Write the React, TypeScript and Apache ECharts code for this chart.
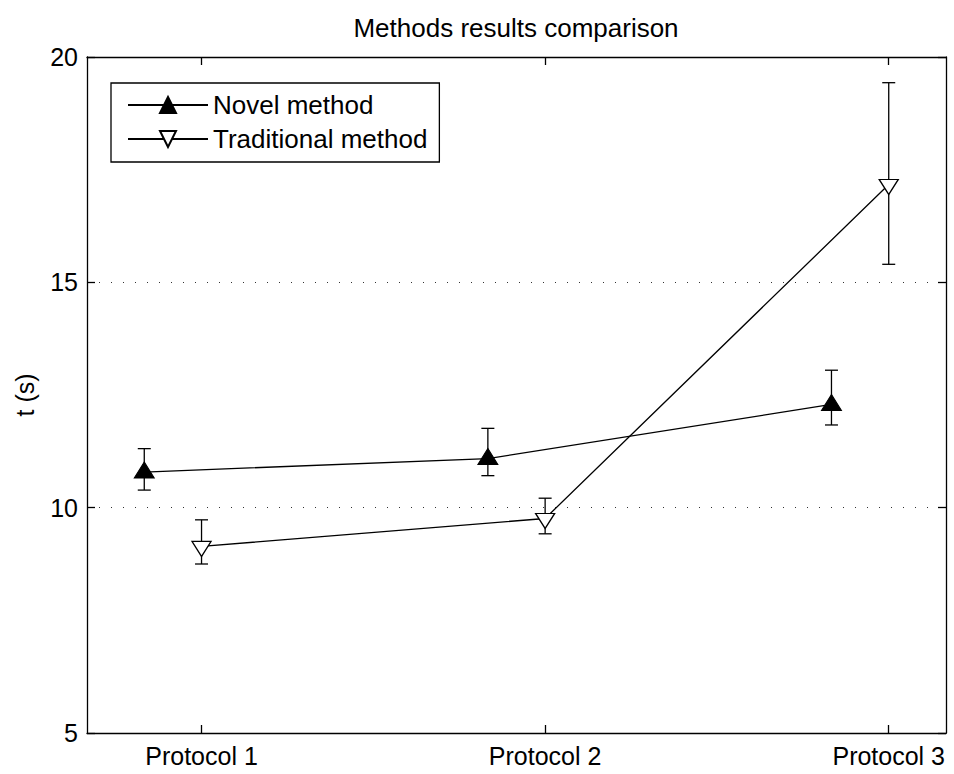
import React, { useEffect, useRef } from "react";
import * as echarts from "echarts";

const categories = ["Protocol 1", "Protocol 2", "Protocol 3"];
const categoryX = [1, 2, 3];
const novelX = [5 / 6, 11 / 6, 17 / 6];
const tradX = [1, 2, 3];
const novelMean = [10.79, 11.09, 12.29];
const novelLow = [10.39, 10.71, 11.835];
const novelHigh = [11.31, 11.76, 13.05];
const tradMean = [9.14, 9.76, 17.17];
const tradLow = [8.75, 9.42, 15.4];
const tradHigh = [9.73, 10.21, 19.43];
const yTicks = [5, 10, 15, 20];

const FONT = "'Liberation Sans', Arial, Helvetica, sans-serif";

export default function App() {
  const ref = useRef<HTMLDivElement>(null);
  useEffect(() => {
    if (!ref.current) return;
    const chart = echarts.init(ref.current, null, { renderer: "svg" });
    const axisLineStyle = { color: "#000", width: 1.3 };
    const errRender = (params: any, api: any) => {
      const x = api.value(0);
      const lo = api.coord([x, api.value(1)]);
      const hi = api.coord([x, api.value(2)]);
      const hw = 6.5;
      const style = { stroke: "#000", lineWidth: 1.3, fill: null };
      return {
        type: "group",
        children: [
          { type: "line", shape: { x1: lo[0], y1: lo[1], x2: hi[0], y2: hi[1] }, style },
          { type: "line", shape: { x1: lo[0] - hw, y1: lo[1], x2: lo[0] + hw, y2: lo[1] }, style },
          { type: "line", shape: { x1: hi[0] - hw, y1: hi[1], x2: hi[0] + hw, y2: hi[1] }, style },
        ],
      };
    };
    const option: any = {
      animation: false,
      backgroundColor: "#fff",
      textStyle: { fontFamily: FONT },
      graphic: [
        {
          type: "text",
          x: 516,
          y: 28,
          style: {
            text: "Methods results comparison",
            font: `26px ${FONT}`,
            fill: "#000",
            align: "center",
            verticalAlign: "middle",
          },
        },
      ],
      grid: { left: 87, right: 8, top: 57, bottom: 41, outerBoundsMode: "none" },
      legend: {
        data: ["Novel method", "Traditional method"],
        orient: "vertical",
        left: 111,
        top: 83,
        backgroundColor: "#fff",
        borderColor: "#000",
        borderWidth: 1.3,
        borderRadius: 0,
        padding: [9, 12, 10, 16],
        itemWidth: 80,
        itemHeight: 20,
        itemGap: 8,
        selectedMode: false,
        textStyle: { fontSize: 26, lineHeight: 26, color: "#000", fontFamily: FONT },
      },
      xAxis: [
        {
          type: "value",
          min: 2 / 3,
          max: 19 / 6,
          position: "bottom",
          axisLine: { show: true, lineStyle: axisLineStyle },
          axisTick: { show: true, inside: true, length: 8, lineStyle: axisLineStyle, customValues: categoryX },
          axisLabel: {
            show: true,
            customValues: categoryX,
            margin: 10,
            fontSize: 25,
            color: "#000",
            fontFamily: FONT,
            formatter: (v: number) => categories[categoryX.indexOf(Math.round(v))] ?? "",
          },
          splitLine: { show: false },
        },
        {
          type: "value",
          min: 2 / 3,
          max: 19 / 6,
          position: "top",
          axisLine: { show: true, lineStyle: axisLineStyle },
          axisTick: { show: true, inside: true, length: 8, lineStyle: axisLineStyle, customValues: categoryX },
          axisLabel: { show: false },
          splitLine: { show: false },
        },
      ],
      yAxis: [
        {
          type: "value",
          min: yTicks[0],
          max: yTicks[yTicks.length - 1],
          interval: 5,
          position: "left",
          name: "t (s)",
          nameLocation: "middle",
          nameGap: 50,
          nameTextStyle: { fontSize: 25, color: "#000", fontFamily: FONT },
          axisLine: { show: true, lineStyle: axisLineStyle },
          axisTick: { show: true, inside: true, length: 8, lineStyle: axisLineStyle },
          axisLabel: { margin: 9, fontSize: 25, color: "#000", fontFamily: FONT },
          splitLine: { show: true, lineStyle: { color: "#333", width: 1, type: [1, 11] } },
        },
        {
          type: "value",
          min: yTicks[0],
          max: yTicks[yTicks.length - 1],
          interval: 5,
          position: "right",
          axisLine: { show: true, lineStyle: axisLineStyle },
          axisTick: { show: true, inside: true, length: 8, lineStyle: axisLineStyle },
          axisLabel: { show: false },
          splitLine: { show: false },
        },
      ],
      series: [
        {
          type: "custom",
          xAxisIndex: 0,
          yAxisIndex: 0,
          z: 1,
          renderItem: errRender,
          data: novelX.map((x, i) => [x, novelLow[i], novelHigh[i]]),
          encode: { x: 0, y: [1, 2] },
          silent: true,
        },
        {
          type: "custom",
          xAxisIndex: 0,
          yAxisIndex: 0,
          z: 1,
          renderItem: errRender,
          data: tradX.map((x, i) => [x, tradLow[i], tradHigh[i]]),
          encode: { x: 0, y: [1, 2] },
          silent: true,
        },
        {
          name: "Novel method",
          type: "line",
          xAxisIndex: 0,
          yAxisIndex: 0,
          z: 3,
          data: novelX.map((x, i) => [x, novelMean[i]]),
          symbol: "triangle",
          symbolSize: [20, 16],
          symbolOffset: [0, -2],
          showAllSymbol: true,
          lineStyle: { color: "#000", width: 1.3 },
          itemStyle: { color: "#000", borderColor: "#000", borderWidth: 1 },
          silent: true,
        },
        {
          name: "Traditional method",
          type: "line",
          xAxisIndex: 0,
          yAxisIndex: 0,
          z: 3,
          data: tradX.map((x, i) => [x, tradMean[i]]),
          symbol: "path://M0,0L20,0L10,16Z",
          symbolSize: [19, 15],
          symbolKeepAspect: false,
          symbolOffset: [0, 2.5],
          showAllSymbol: true,
          lineStyle: { color: "#000", width: 1.3 },
          itemStyle: { color: "#fff", borderColor: "#000", borderWidth: 1.3 },
          silent: true,
        },
      ],
    };
    chart.setOption(option);
    return () => chart.dispose();
  }, []);
  return (
    <div
      ref={ref}
      style={{ position: "absolute", left: 0, top: 0, width: 954, height: 774, background: "#fff" }}
    />
  );
}
